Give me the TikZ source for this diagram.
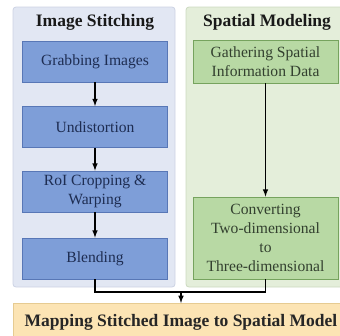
\documentclass[tikz,border=0pt]{standalone}
\usepackage{fontspec}
\setmainfont{Liberation Serif}
\newfontfamily\diagfont{Liberation Serif}
\usepackage{xcolor}
\usepackage{tikz}

\definecolor{stitchback}{HTML}{E2E7F3}
\definecolor{stitchline}{HTML}{CCD3E3}
\definecolor{stitchfill}{HTML}{7E9ED8}
\definecolor{stitchdraw}{HTML}{5877B6}
\definecolor{stitchtext}{HTML}{1E2D52}
\definecolor{modelback}{HTML}{E4EEDA}
\definecolor{modelline}{HTML}{CBD9C0}
\definecolor{modelfill}{HTML}{B8D9A4}
\definecolor{modeldraw}{HTML}{76A35E}
\definecolor{modeltext}{HTML}{33402F}
\definecolor{mapfill}{HTML}{FCE4B4}
\definecolor{mapdraw}{HTML}{E6CB92}

\tikzset{
  panel/.style={rounded corners=3pt, line width=0.8pt, inner sep=0pt},
  title/.style={font=\diagfont\fontsize{17.5}{21}\selectfont\bfseries, text=black!90},
  stitchbox/.style={draw=stitchdraw, fill=stitchfill, line width=0.8pt, text=stitchtext,
    minimum width=145pt, minimum height=41pt, align=center,
    font=\diagfont\fontsize{15.6}{19}\selectfont},
  modelbox/.style={draw=modeldraw, fill=modelfill, line width=0.8pt, text=modeltext,
    minimum width=145pt, align=center, inner sep=2pt,
    font=\diagfont\fontsize{15.6}{19}\selectfont},
}

\begin{document}
\begin{tikzpicture}[x=1pt, y=-1pt, >=latex, line width=1.5pt]
\useasboundingbox (0,0) rectangle (340,335);

% panels
\node[panel, draw=stitchline, fill=stitchback, minimum width=162pt, minimum height=280pt] (stitchpanel) at (94, 147) {};
\node[panel, draw=modelline, fill=modelback, minimum width=170pt, minimum height=280pt] (modelpanel) at (271, 147) {};
\node[title] (stitchtitle) at (95, 22) {Image Stitching};
\node[title] (modeltitle) at (267, 22) {Spatial Modeling};

% image stitching steps
\node[stitchbox] (grab) at (95, 61.5) {Grabbing Images};
\node[stitchbox] (undist) at (95, 127) {Undistortion};
\node[stitchbox] (roi) at (95, 191.5) {RoI Cropping \&\\Warping};
\node[stitchbox] (blend) at (95, 258.5) {Blending};

\draw[->] (grab) -- (undist);
\draw[->] (undist) -- (roi);
\draw[->] (roi) -- (blend);

% spatial modeling steps
\node[modelbox, minimum height=43pt] (gather) at (265.5, 61.5) {Gathering Spatial\\Information Data};
\node[modelbox, minimum height=82pt] (convert) at (265.5, 238) {Converting\\Two-dimensional\\to\\Three-dimensional};

\draw[->] (gather) -- (convert);

% mapping
\node[draw=mapdraw, fill=mapfill, line width=0.8pt, minimum width=334pt, minimum height=40pt,
  anchor=north west, inner sep=0pt] (mapping) at (13, 303) {};
\node[title, text=black!85] (maptext) at (181, 322) {Mapping Stitched Image to Spatial Model};

\coordinate (join) at (181, 292);
\draw (blend.south) |- (join) -| (convert.south);
\draw[->] (join) -- (mapping.north -| join);
\end{tikzpicture}
\end{document}
